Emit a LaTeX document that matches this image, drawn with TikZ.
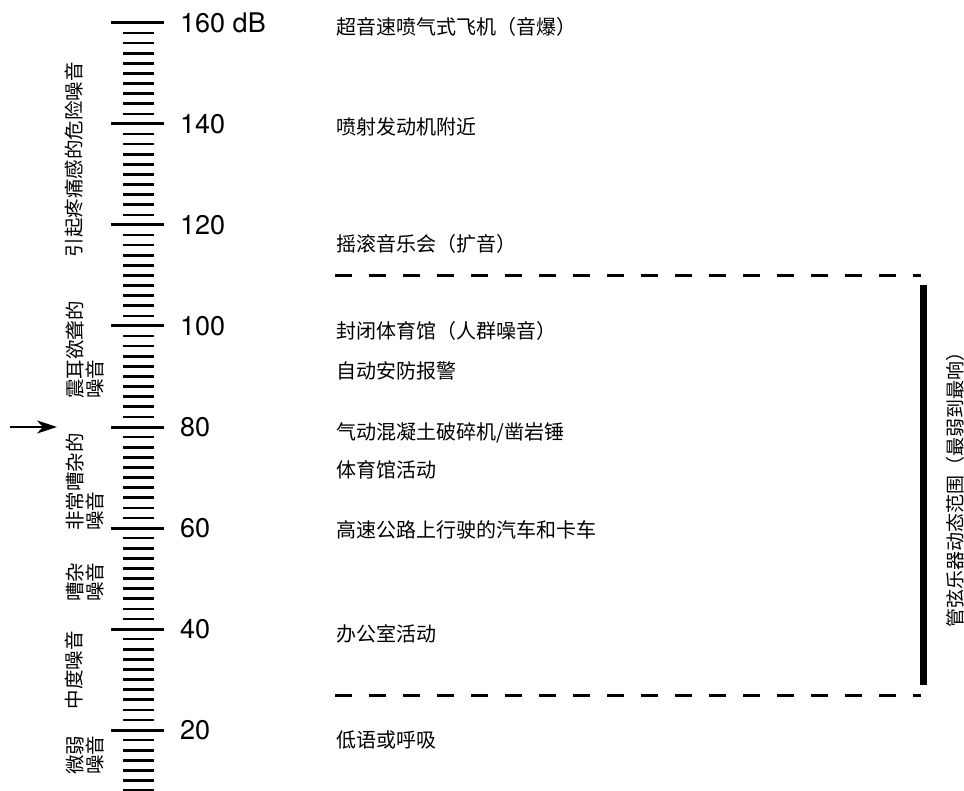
\documentclass[tikz,border=0pt]{standalone}
\usepackage{fontspec}
\setmainfont{TeX Gyre Heros}
\newfontfamily\cjk{Noto Sans CJK SC}
\usetikzlibrary{arrows.meta}
\begin{document}
\begin{tikzpicture}[x=1pt,y=-1pt,
  num/.style={anchor=west,font=\fontsize{27}{27}\selectfont,inner sep=0pt},
  lab/.style={anchor=base west,font=\cjk\fontsize{20}{20}\selectfont,inner sep=0pt},
  side/.style={rotate=90,font=\cjk\fontsize{19.5}{20.5}\selectfont,align=left,inner sep=0pt},
  majortick/.style={line width=3pt},
  minortick/.style={line width=2.6pt},
  rangeline/.style={line width=3pt,dash pattern=on 17pt off 17pt},
  rangebar/.style={line width=7pt}]
\useasboundingbox (0,0) rectangle (964,791);
% scale ticks
\foreach \d in {8,10,...,160} {
  \draw[minortick] (123,{23+(160-\d)*5.05}) -- (154,{23+(160-\d)*5.05});
}
\foreach \d in {20,40,...,160} {
  \draw[majortick] (111,{23+(160-\d)*5.05}) -- (164,{23+(160-\d)*5.05});
}
% numbers
\node[num] (n160) at (180,{23+0*5.05}) {160 dB};
\node[num] (n140) at (180,{23+20*5.05}) {140};
\node[num] (n120) at (180,{23+40*5.05}) {120};
\node[num] (n100) at (180,{23+60*5.05}) {100};
\node[num] (n80)  at (180,{23+80*5.05}) {80};
\node[num] (n60)  at (180,{23+100*5.05}) {60};
\node[num] (n40)  at (180,{23+120*5.05}) {40};
\node[num] (n20)  at (180,{23+140*5.05}) {20};
% right labels
\node[lab] (t1) at (336,35) {超音速喷气式飞机（音爆）};
\node[lab] (t2) at (336,135) {喷射发动机附近};
\node[lab] (t3) at (336,252) {摇滚音乐会（扩音）};
\node[lab] (t4) at (336,339) {封闭体育馆（人群噪音）};
\node[lab] (t5) at (336,379) {自动安防报警};
\node[lab] (t6) at (336,439) {气动混凝土破碎机/凿岩锤};
\node[lab] (t7) at (336,477) {体育馆活动};
\node[lab] (t8) at (336,537) {高速公路上行驶的汽车和卡车};
\node[lab] (t9) at (336,641) {办公室活动};
\node[lab] (t10) at (336,747) {低语或呼吸};
% left category labels
\node[side] (c1) at (74,160) {引起疼痛感的危险噪音};
\node[side] (c2) at (85,350) {震耳欲聋的\\噪音};
\node[side] (c3) at (85,482) {非常嘈杂的\\噪音};
\node[side] (c4) at (85,582) {嘈杂\\噪音};
\node[side] (c5) at (74,670) {中度噪音};
\node[side] (c6) at (85,755) {微弱\\噪音};
% arrow
\coordinate (arrS) at (10,427);
\coordinate (arrE) at (57,427);
\draw[line width=2.4pt,-{Stealth[length=20pt,width=13pt,inset=6pt]}] (arrS) -- (arrE);
% range
\coordinate (dTL) at (335,275.5);
\coordinate (dTR) at (921,275.5);
\coordinate (dBL) at (335,695.5);
\coordinate (dBR) at (921,695.5);
\draw[rangeline] (dTL) -- (dTR);
\draw[rangeline] (dBL) -- (dBR);
\coordinate (bT) at (923,285);
\coordinate (bB) at (923,685);
\draw[rangebar] (bT) -- (bB);
\node[side,font=\cjk\fontsize{19}{19}\selectfont] (rlab) at (955,485) {管弦乐器动态范围（最弱到最响）};
\end{tikzpicture}
\end{document}
